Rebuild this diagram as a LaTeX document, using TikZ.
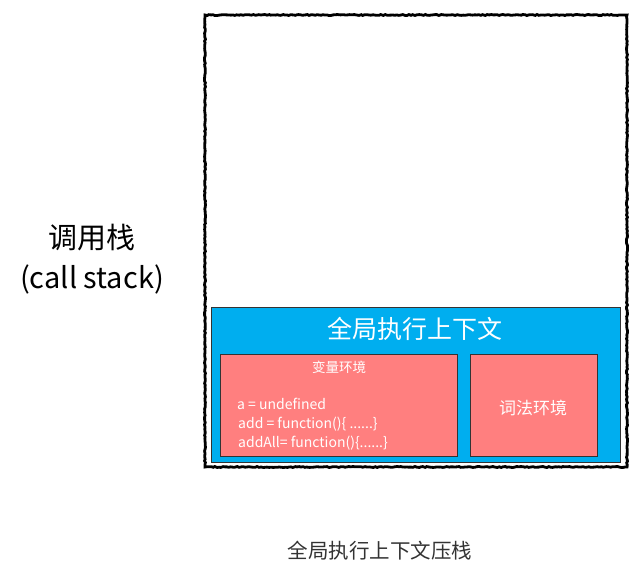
\documentclass[tikz,border=0pt]{standalone}
\usepackage{fontspec}
\setmainfont{Noto Sans CJK SC}
\usetikzlibrary{decorations.pathmorphing}
\definecolor{ctxblue}{HTML}{00AEEF}
\definecolor{envred}{HTML}{FF7F7F}
\definecolor{captgray}{HTML}{333333}
\tikzset{
  stackbox/.style={draw=black, line width=2.8pt, decorate, decoration={random steps, segment length=2pt, amplitude=0.5pt}},
  ctxbox/.style={draw=black!80, line width=1.3pt, fill=ctxblue},
  envbox/.style={draw=black!80, line width=1.2pt, fill=envred},
  wtext/.style={text=white, inner sep=0pt},
}
\begin{document}
\begin{tikzpicture}[x=1pt,y=-1pt]
\useasboundingbox (0,0) rectangle (643,576);
\draw[stackbox] (205,15) rectangle (627,467);
\node[ctxbox, minimum width=409pt, minimum height=155pt, anchor=north west] (ctx) at (211,307) {};
\node[envbox, minimum width=237pt, minimum height=102pt, anchor=north west] (var) at (220,354) {};
\node[envbox, minimum width=127pt, minimum height=102pt, anchor=north west] (lex) at (470,354) {};
\node[wtext, font=\fontsize{25}{25}\selectfont] (ctxt) at (415,329) {全局执行上下文};
\node[wtext, font=\fontsize{13.5}{13.5}\selectfont] (vart) at (339,367) {变量环境};
\node[wtext, font=\fontsize{14}{14}\selectfont, anchor=west] (l1) at (237,404) {a = undefined};
\node[wtext, font=\fontsize{14}{14}\selectfont, anchor=west] (l2) at (238,424) {add = function()\{ ......\}};
\node[wtext, font=\fontsize{14}{14}\selectfont, anchor=west] (l3) at (238,443) {addAll= function()\{......\}};
\node[wtext, font=\fontsize{17}{17}\selectfont] (lext) at (533,408) {词法环境};
\node[font=\fontsize{29}{29}\selectfont] (cs1) at (92,238) {调用栈};
\node[font=\fontsize{29}{29}\selectfont] (cs2) at (92,279) {(call stack)};
\node[text=captgray, font=\fontsize{20.5}{20.5}\selectfont] (cap) at (380,551) {全局执行上下文压栈};
\end{tikzpicture}
\end{document}
